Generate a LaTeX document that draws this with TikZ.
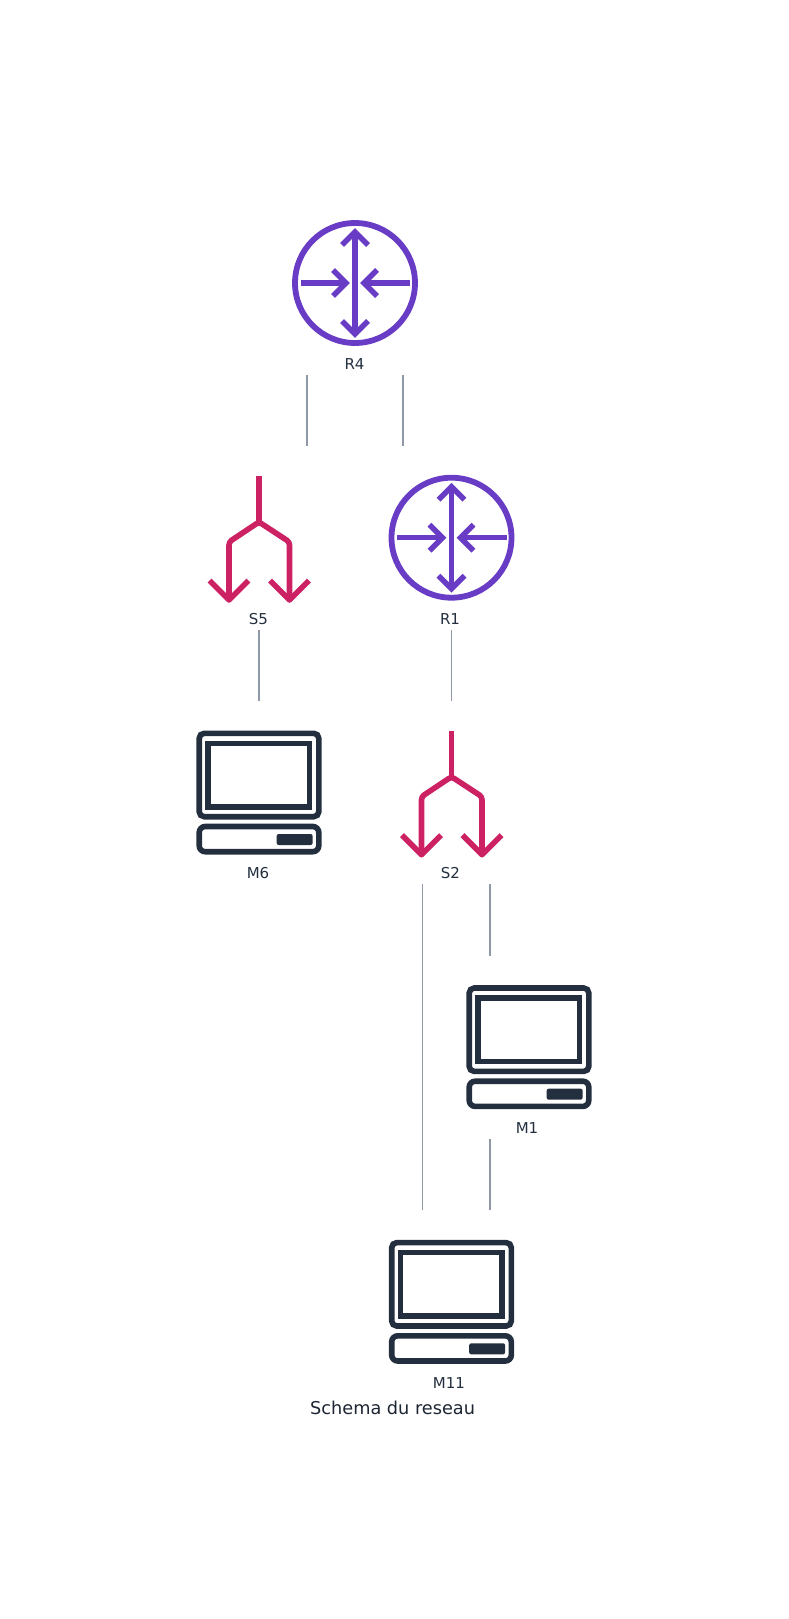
\documentclass[tikz,border=0pt]{standalone}
\usepackage{fontspec}
\setmainfont{DejaVu Sans}
\definecolor{routerc}{HTML}{693CC5}
\definecolor{splitc}{HTML}{CC2264}
\definecolor{compc}{HTML}{232F3E}
\definecolor{linec}{HTML}{8F98A6}
\tikzset{
  x=1pt,y=-1pt,
  lbl/.style={anchor=base,inner sep=0pt,font=\fontsize{15}{17}\selectfont,text=compc},
  ttl/.style={anchor=base west,inner sep=0pt,font=\fontsize{17.7}{20}\selectfont,text=compc!80!black},
  link/.style={draw=linec,line width=1.4pt},
  routerline/.style={draw=routerc,line width=5.4pt,line join=miter},
  splitline/.style={draw=splitc,line width=5.6pt,line join=round},
  compline/.style={draw=compc,line width=5.6pt},
  pics/routericon/.style={code={
    \draw[routerline,line width=5.8pt] (0,0) circle[radius=60];
    \draw[routerline] (0,52) -- (0,-52);
    \draw[routerline] (-13,-38) -- (0,-51) -- (13,-38);
    \draw[routerline] (-13,38) -- (0,51) -- (13,38);
    \draw[routerline] (-54.5,0) -- (-10,0);
    \draw[routerline] (-22,-13) -- (-9,0) -- (-22,13);
    \draw[routerline] (55,0) -- (10,0);
    \draw[routerline] (22,-13) -- (9,0) -- (22,13);
  }},
  pics/splittericon/.style={code={
    \draw[splitline] (0,0) -- (0,46);
    \draw[splitline,rounded corners=3pt] (-30,124) -- (-30,66) -- (0,46) -- (30.5,66) -- (30.5,124);
    \draw[splitline] (-49.5,104.5) -- (-30,124) -- (-10.5,104.5);
    \draw[splitline] (11,104.5) -- (30.5,124) -- (50,104.5);
  }},
  pics/computericon/.style={code={
    \draw[compline,rounded corners=5pt] (-59.8,2.6) rectangle (59.8,86);
    \draw[compline] (-51,12.6) rectangle (50.5,76);
    \draw[compline,rounded corners=6pt] (-59.8,95.8) rectangle (59.8,121);
    \fill[compc,rounded corners=2pt] (17.7,103.3) rectangle (53.6,114.3);
  }}
}
\begin{document}
\begin{tikzpicture}
\useasboundingbox (0,0) rectangle (788,1619);
% icons
\path (355,283) coordinate (R4) pic {routericon};
\path (451.5,537.7) coordinate (R1) pic {routericon};
\path (259,476) coordinate (S5) pic {splittericon};
\path (451.5,730.7) coordinate (S2) pic {splittericon};
\path (259,730.7) coordinate (M6) pic {computericon};
\path (529,985.4) coordinate (M1) pic {computericon};
\path (451.5,1240) coordinate (M11) pic {computericon};
% labels
\node[lbl] (lR4) at (354.5,369.5) {R4};
\node[lbl] (lS5) at (258.5,624.2) {S5};
\node[lbl] (lR1) at (450,624.2) {R1};
\node[lbl] (lM6) at (258,878.9) {M6};
\node[lbl] (lS2) at (450.5,878.9) {S2};
\node[lbl] (lM1) at (527,1133.5) {M1};
\node[lbl] (lM11) at (449,1388.3) {M11};
\node[ttl] (title) at (310,1414) {Schema du reseau};
% connector ends
\coordinate (a1) at (307,375);   \coordinate (a2) at (307,446);
\coordinate (b1) at (403,375);   \coordinate (b2) at (403,446);
\coordinate (c1) at (259,630);   \coordinate (c2) at (259,701);
\coordinate (d1) at (451.5,630); \coordinate (d2) at (451.5,701);
\coordinate (e1) at (422.7,884); \coordinate (e2) at (422.7,1210);
\coordinate (f1) at (490,884);   \coordinate (f2) at (490,955.5);
\coordinate (g1) at (490,1139);  \coordinate (g2) at (490,1210);
\draw[link] (a1) -- (a2);
\draw[link] (b1) -- (b2);
\draw[link] (c1) -- (c2);
\draw[link] (d1) -- (d2);
\draw[link] (e1) -- (e2);
\draw[link] (f1) -- (f2);
\draw[link] (g1) -- (g2);
\end{tikzpicture}
\end{document}
